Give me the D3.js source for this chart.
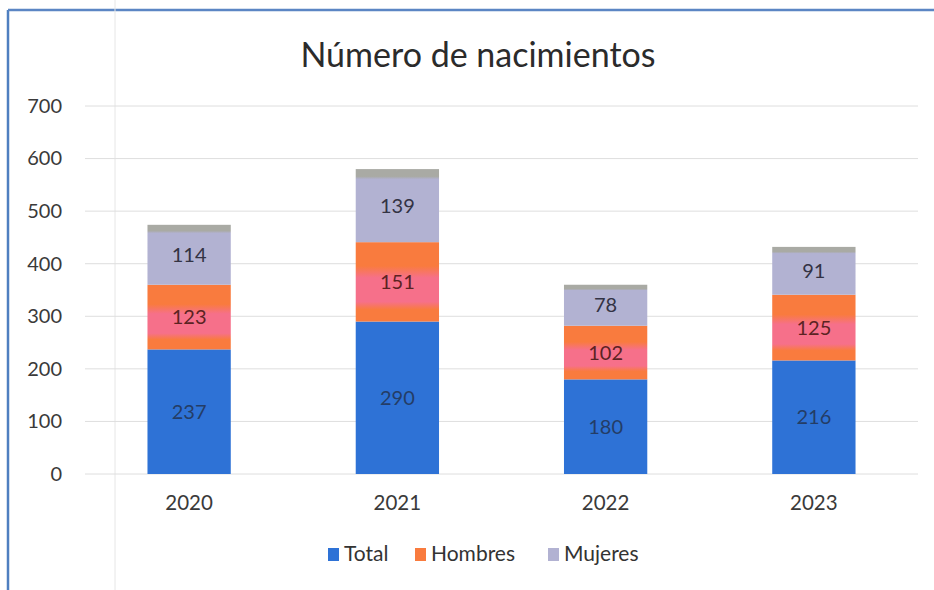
<!DOCTYPE html>
<html>
<head>
<meta charset="utf-8">
<script src="https://cdn.jsdelivr.net/npm/d3@7"></script>
<style>
  html, body { margin: 0; padding: 0; background: #fff; }
  svg { display: block; }
  text { font-family: Lato, "Open Sans", sans-serif; }
</style>
</head>
<body>
<svg id="chart" width="934" height="590"></svg>
<script>
// Births per year, split by sex
const years = ["2020", "2021", "2022", "2023"];
const total = [237, 290, 180, 216];
const hombres = [123, 151, 102, 125];
const mujeres = [114, 139, 78, 91];
const seriesNames = ["Total", "Hombres", "Mujeres"];
const yTicks = [0, 100, 200, 300, 400, 500, 600, 700];

const svg = d3.select("#chart");
const W = 934, H = 590;
const margin = { left: 85, right: 16, top: 106, bottom: 116 };

// frame
svg.append("line").attr("x1", 8).attr("x2", 8).attr("y1", 10).attr("y2", H)
  .attr("stroke", "#4f7fc0").attr("stroke-width", 2.5);
svg.append("line").attr("x1", 8).attr("x2", W).attr("y1", 10).attr("y2", 10)
  .attr("stroke", "#5b86c4").attr("stroke-width", 2.5);
svg.append("line").attr("x1", 115).attr("x2", 115).attr("y1", 0).attr("y2", H)
  .attr("stroke", "#e6e6e6").attr("stroke-width", 1);

const defs = svg.append("defs");
const gH = defs.append("linearGradient").attr("id", "gHombres")
  .attr("x1", 0).attr("x2", 0).attr("y1", 0).attr("y2", 1);
[[0, "#f97b3e"], [0.3, "#f97b3e"], [0.45, "#f6708a"], [0.75, "#f6708a"], [0.85, "#f97b3e"], [1, "#f97b3e"]]
  .forEach(([o, c]) => gH.append("stop").attr("offset", o).attr("stop-color", c));
const gM = defs.append("linearGradient").attr("id", "gMujeres")
  .attr("x1", 0).attr("x2", 0).attr("y1", 0).attr("y2", 1);
[[0, "#a9aaa4"], [0.1, "#a9aaa4"], [0.14, "#b2b2d2"], [1, "#b2b2d2"]]
  .forEach(([o, c]) => gM.append("stop").attr("offset", o).attr("stop-color", c));

const x = d3.scaleBand().domain(years)
  .range([margin.left, W - margin.right]).paddingInner(0.6).paddingOuter(0.3);
const y = d3.scaleLinear().domain([0, 700]).range([H - margin.bottom, margin.top]);

// gridlines
svg.append("g").selectAll("line").data(yTicks).join("line")
  .attr("x1", margin.left).attr("x2", W - margin.right)
  .attr("y1", d => y(d)).attr("y2", d => y(d))
  .attr("stroke", "#dedede").attr("stroke-width", 1);

// y axis labels
const yAxis = svg.append("g").attr("transform", `translate(${margin.left - 23},0)`)
  .call(d3.axisLeft(y).tickValues(yTicks).tickSize(0).tickPadding(0));
yAxis.select(".domain").remove();
yAxis.selectAll("text").attr("font-size", 20).attr("fill", "#3a3a3a")
  .style("font-family", "Lato, sans-serif");

// x axis labels
const xAxis = svg.append("g").attr("transform", `translate(0,${H - margin.bottom + 21})`)
  .call(d3.axisBottom(x).tickSize(0).tickPadding(0));
xAxis.select(".domain").remove();
xAxis.selectAll("text").attr("font-size", 20.5).attr("fill", "#3a3a3a")
  .attr("dy", "0.75em").style("font-family", "Lato, sans-serif");

// stacked segments
const rows = years.map((yr, i) => ({ year: yr, Total: total[i], Hombres: hombres[i], Mujeres: mujeres[i] }));
const stack = d3.stack().keys(seriesNames)(rows);
const fills = { Total: "#2e72d6", Hombres: "url(#gHombres)", Mujeres: "url(#gMujeres)" };
const labelColors = { Total: "#243d66", Hombres: "#5b2323", Mujeres: "#333344" };

stack.forEach(layer => {
  const g = svg.append("g");
  g.selectAll("rect").data(layer).join("rect")
    .attr("x", d => x(d.data.year))
    .attr("width", x.bandwidth())
    .attr("y", d => y(d[1]))
    .attr("height", d => y(d[0]) - y(d[1]))
    .attr("fill", fills[layer.key]);
  g.selectAll("text").data(layer).join("text")
    .attr("x", d => x(d.data.year) + x.bandwidth() / 2)
    .attr("y", d => (y(d[0]) + y(d[1])) / 2)
    .attr("dy", "0.35em")
    .attr("text-anchor", "middle")
    .attr("font-size", 20)
    .attr("fill", labelColors[layer.key])
    .text(d => d.data[layer.key]);
});

// title
svg.append("text").attr("x", 478).attr("y", 67).attr("text-anchor", "middle")
  .attr("font-size", 34).attr("fill", "#2b2b2b").text("Número de nacimientos");

// legend
const legendColors = { Total: "#2e72d6", Hombres: "#f97b3e", Mujeres: "#b2b2d2" };
const legendX = [328, 415, 548];
const lg = svg.append("g");
seriesNames.forEach((name, i) => {
  lg.append("rect").attr("x", legendX[i]).attr("y", 548).attr("width", 11).attr("height", 13)
    .attr("fill", legendColors[name]);
  lg.append("text").attr("x", legendX[i] + 16).attr("y", 554).attr("dy", "0.35em")
    .attr("font-size", 21).attr("fill", "#333").text(name);
});
</script>
</body>
</html>
